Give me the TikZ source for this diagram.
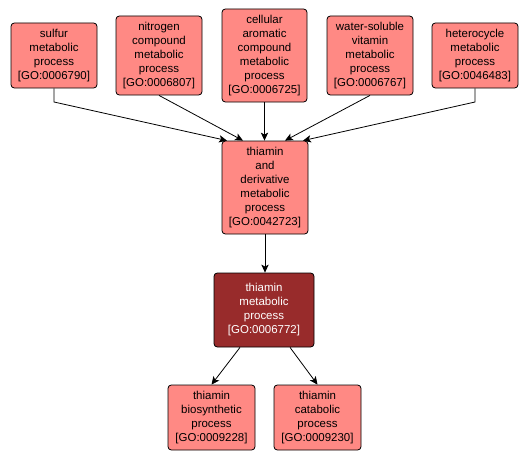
\documentclass[tikz,border=0pt]{standalone}
\usepackage{fontspec}
\setmainfont{Liberation Sans}
\usetikzlibrary{arrows.meta,calc}
\definecolor{lightfill}{RGB}{255,137,132}
\definecolor{darkfill}{RGB}{152,43,43}
\tikzset{
  gobox/.style={draw=black, line width=0.6pt, rounded corners=2.5pt, fill=lightfill,
    align=center, inner sep=0pt, font=\fontsize{8.6pt}{10.5pt}\selectfont, text=black},
  godark/.style={gobox, fill=darkfill, text=white},
  link/.style={line width=0.6pt, -{Stealth[length=6pt,width=5.5pt,inset=1.5pt]}}
}
\begin{document}
\begin{tikzpicture}[x=0.75pt,y=-0.75pt]
\useasboundingbox (0,0) rectangle (530,460);
\node[gobox, minimum width=64.5pt, minimum height=48.75pt] (sulfur) at (54,55.5) {sulfur\\metabolic\\process\\{[GO:0006790]}};
\node[gobox, minimum width=64.5pt, minimum height=59.25pt] (nitro) at (159,55.5) {nitrogen\\compound\\metabolic\\process\\{[GO:0006807]}};
\node[gobox, minimum width=63.75pt, minimum height=69.75pt] (cell) at (264.5,55.5) {cellular\\aromatic\\compound\\metabolic\\process\\{[GO:0006725]}};
\node[gobox, minimum width=64.5pt, minimum height=59.25pt] (water) at (370,55.5) {water-soluble\\vitamin\\metabolic\\process\\{[GO:0006767]}};
\node[gobox, minimum width=64.5pt, minimum height=48.75pt] (hetero) at (475,55.5) {heterocycle\\metabolic\\process\\{[GO:0046483]}};
\node[gobox, minimum width=64.5pt, minimum height=69.75pt] (deriv) at (265,187.5) {thiamin\\and\\derivative\\metabolic\\process\\{[GO:0042723]}};
\node[godark, minimum width=75pt, minimum height=55.5pt] (meta) at (264,310) {thiamin\\metabolic\\process\\{[GO:0006772]}};
\node[gobox, minimum width=65.25pt, minimum height=48.75pt] (bios) at (211.5,417.5) {thiamin\\biosynthetic\\process\\{[GO:0009228]}};
\node[gobox, minimum width=65.25pt, minimum height=48.75pt] (catab) at (317.5,417.5) {thiamin\\catabolic\\process\\{[GO:0009230]}};
\coordinate (sbend) at (54,102);
\coordinate (hbend) at (475,102);
\draw[link] (sulfur.south) -- (sbend) -- ($(deriv.north)+(-38,0)$);
\draw[link] (nitro.south) -- ($(deriv.north)+(-22,0)$);
\draw[link] (cell.south) -- (cell.south |- deriv.north);
\draw[link] (water.south) -- ($(deriv.north)+(20,0)$);
\draw[link] (hetero.south) -- (hbend) -- ($(deriv.north)+(38,0)$);
\draw[link] (deriv.south) -- (deriv.south |- meta.north);
\draw[link] ($(meta.south)+(-24,0)$) -- (bios.north);
\draw[link] ($(meta.south)+(26,0)$) -- (catab.north);
\end{tikzpicture}
\end{document}
